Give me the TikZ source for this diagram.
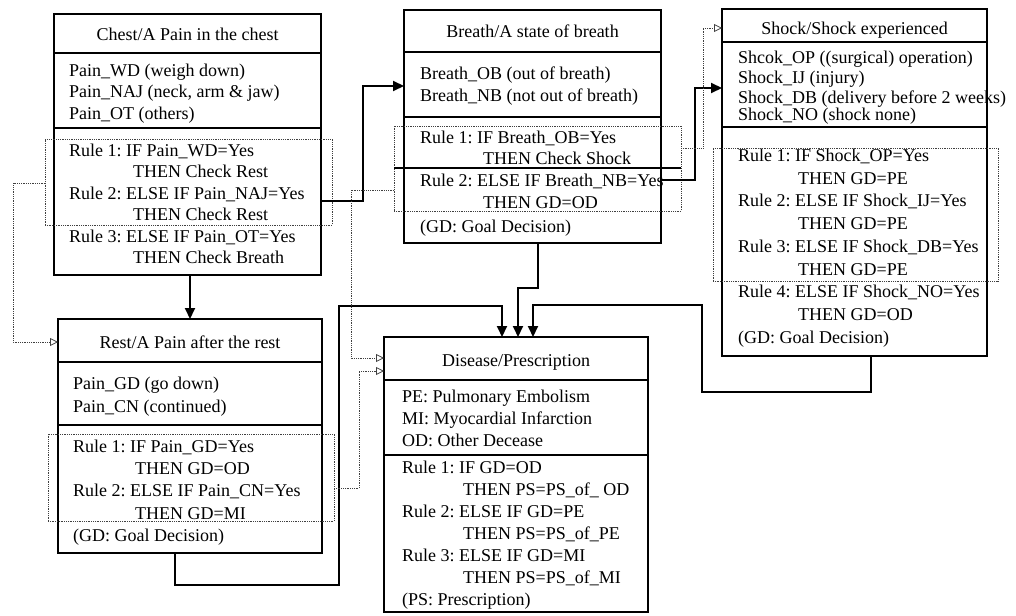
\documentclass[tikz,border=0pt]{standalone}
\usepackage{fontspec}
\setmainfont{Liberation Serif}
\usetikzlibrary{arrows.meta}
\frenchspacing
\begin{document}
\begin{tikzpicture}[x=1pt,y=-1pt,
  box/.style={draw, line width=1.2pt, anchor=north west, inner sep=0pt, outer sep=0pt},
  bigbox/.style={draw, line width=2.6pt, anchor=north west, inner sep=0pt, outer sep=0pt},
  dotbox/.style={draw, densely dotted, line width=0.8pt, black!75, anchor=north west, inner sep=0pt, outer sep=0pt},
  divider/.style={line width=1.2pt},
  bigdivider/.style={line width=2.2pt},
  txt/.style={anchor=base west, inner sep=0pt, font=\fontsize{18}{21}\selectfont},
  ttl/.style={anchor=base, inner sep=0pt, font=\fontsize{18}{21}\selectfont},
  flow/.style={line width=2pt, -{Triangle[length=11pt,width=10pt]}},
  hint/.style={densely dotted, line width=0.8pt, black!75, -{Triangle[open,length=8pt,width=8pt,line width=0.8pt]}},
]
\useasboundingbox (0,0) rectangle (1016,615);
\fill[white] (0,0) rectangle (1016,615);

% ---------------- Chest ----------------
\node[box, minimum width=267pt, minimum height=261pt] (chest) at (54,14) {};
\draw[divider] (chest.west |- 0,53) -- (chest.east |- 0,53);
\draw[divider] (chest.west |- 0,128) -- (chest.east |- 0,128);
\node[ttl] (ct) at (187.5,41) {Chest/A Pain in the chest};
\node[txt] (cv1) at (69,77) {Pain\_WD (weigh down)};
\node[txt] (cv2) at (69,98) {Pain\_NAJ (neck, arm \& jaw)};
\node[txt] (cv3) at (69,119) {Pain\_OT (others)};
\node[txt] (cr1) at (69,156) {Rule 1: IF Pain\_WD=Yes};
\node[txt] (cr2) at (133,177) {THEN Check Rest};
\node[txt] (cr3) at (69,199) {Rule 2: ELSE IF Pain\_NAJ=Yes};
\node[txt] (cr4) at (133,220) {THEN Check Rest};
\node[txt] (cr5) at (69,242) {Rule 3: ELSE IF Pain\_OT=Yes};
\node[txt] (cr6) at (133,263) {THEN Check Breath};
\node[dotbox, minimum width=287pt, minimum height=86pt] (chestd) at (45,139) {};

% ---------------- Breath ----------------
\node[box, minimum width=257pt, minimum height=233pt] (breath) at (404,10) {};
\draw[divider] (breath.west |- 0,52) -- (breath.east |- 0,52);
\draw[divider] (breath.west |- 0,117) -- (breath.east |- 0,117);
\node[ttl] (bt) at (532.5,38) {Breath/A state of breath};
\node[txt] (bv1) at (420,80) {Breath\_OB (out of breath)};
\node[txt] (bv2) at (420,102) {Breath\_NB (not out of breath)};
\node[txt] (br1) at (420,143) {Rule 1: IF Breath\_OB=Yes};
\node[txt] (br2) at (483,164) {THEN Check Shock};
\node[txt] (br3) at (420,186) {Rule 2: ELSE IF Breath\_NB=Yes};
\node[txt] (br4) at (483,208) {THEN GD=OD};
\node[txt] (br5) at (420,232) {(GD: Goal Decision)};
\node[dotbox, minimum width=287pt, minimum height=85pt] (breathd) at (394,126) {};
\draw[divider] (breathd.west |- 0,168) -- (breathd.east |- 0,168);

% ---------------- Shock ----------------
\node[box, minimum width=265pt, minimum height=347pt] (shock) at (722,9) {};
\draw[divider] (shock.west |- 0,42) -- (shock.east |- 0,42);
\draw[divider] (shock.west |- 0,127) -- (shock.east |- 0,127);
\node[ttl] (st) at (854.5,35) {Shock/Shock experienced};
\node[txt] (sv1) at (738,64) {Shcok\_OP ((surgical) operation)};
\node[txt] (sv2) at (738,84) {Shock\_IJ (injury)};
\node[txt] (sv3) at (738,103) {Shock\_DB (delivery before 2 weeks)};
\node[txt] (sv4) at (738,121) {Shock\_NO (shock none)};
\node[txt] (sr1) at (738,161) {Rule 1: IF Shock\_OP=Yes};
\node[txt] (sr2) at (798,184) {THEN GD=PE};
\node[txt] (sr3) at (738,206) {Rule 2: ELSE IF Shock\_IJ=Yes};
\node[txt] (sr4) at (798,229) {THEN GD=PE};
\node[txt] (sr5) at (738,252) {Rule 3: ELSE IF Shock\_DB=Yes};
\node[txt] (sr6) at (798,275) {THEN GD=PE};
\node[txt] (sr7) at (738,297) {Rule 4: ELSE IF Shock\_NO=Yes};
\node[txt] (sr8) at (798,320) {THEN GD=OD};
\node[txt] (sr9) at (738,343) {(GD: Goal Decision)};
\node[dotbox, minimum width=285pt, minimum height=133pt] (shockd) at (713,148) {};

% ---------------- Rest ----------------
\node[box, minimum width=264pt, minimum height=234pt] (rest) at (58,319) {};
\draw[divider] (rest.west |- 0,362) -- (rest.east |- 0,362);
\draw[divider] (rest.west |- 0,425) -- (rest.east |- 0,425);
\node[ttl] (rt) at (190,348) {Rest/A Pain after the rest};
\node[txt] (rv1) at (73,389) {Pain\_GD (go down)};
\node[txt] (rv2) at (73,412) {Pain\_CN (continued)};
\node[txt] (rr1) at (73,452) {Rule 1: IF Pain\_GD=Yes};
\node[txt] (rr2) at (135,474) {THEN GD=OD};
\node[txt] (rr3) at (73,496) {Rule 2: ELSE IF Pain\_CN=Yes};
\node[txt] (rr4) at (135,519) {THEN GD=MI};
\node[txt] (rr5) at (73,541) {(GD: Goal Decision)};
\node[dotbox, minimum width=286pt, minimum height=87pt] (restd) at (48,434) {};

% ---------------- Disease ----------------
\node[bigbox, minimum width=264pt, minimum height=275pt] (disease) at (384,337) {};
\draw[bigdivider] (disease.west |- 0,380) -- (disease.east |- 0,380);
\draw[bigdivider] (disease.west |- 0,455) -- (disease.east |- 0,455);
\node[ttl] (dt) at (516,366) {Disease/Prescription};
\node[txt] (dv1) at (402,402) {PE: Pulmonary Embolism};
\node[txt] (dv2) at (402,424) {MI: Myocardial Infarction};
\node[txt] (dv3) at (402,446) {OD: Other Decease};
\node[txt] (dr1) at (402,473) {Rule 1: IF GD=OD};
\node[txt] (dr2) at (463,495) {THEN PS=PS\_of\_ OD};
\node[txt] (dr3) at (402,517) {Rule 2: ELSE IF GD=PE};
\node[txt] (dr4) at (463,539) {THEN PS=PS\_of\_PE};
\node[txt] (dr5) at (402,561) {Rule 3: ELSE IF GD=MI};
\node[txt] (dr6) at (463,583) {THEN PS=PS\_of\_MI};
\node[txt] (dr7) at (402,605) {(PS: Prescription)};

% ---------------- thick flow connectors ----------------
\draw[flow] (chest.south -| rest.north) -- (rest.north);
\draw[flow] (chest.east |- 0,201) -- (363,201) |- (breath.west |- 0,86);
\draw[flow] (breath.east |- 0,180) -- (695,180) |- (shock.west |- 0,88);
\draw[flow] (rest.south -| 175,0) |- (339,585) |- (502,306) -- (disease.north -| 502,0);
\draw[flow] (breath.south -| 538,0) -- (538,288) -| (disease.north -| 518,0);
\draw[flow] (shock.south -| 871,0) |- (702,392) |- (533,305) -- (disease.north -| 533,0);

% ---------------- dotted hint connectors ----------------
\draw[hint] (chestd.west |- 0,183) -- (13,183) |- (rest.west |- 0,342);
\draw[hint] (breathd.east |- 0,148) -- (703,148) |- (shock.west |- 0,28);
\draw[hint] (breathd.west |- 0,190) -- (351,190) |- (disease.west |- 0,358);
\draw[hint] (restd.east |- 0,488) -- (359,488) |- (disease.west |- 0,371);
\end{tikzpicture}
\end{document}
